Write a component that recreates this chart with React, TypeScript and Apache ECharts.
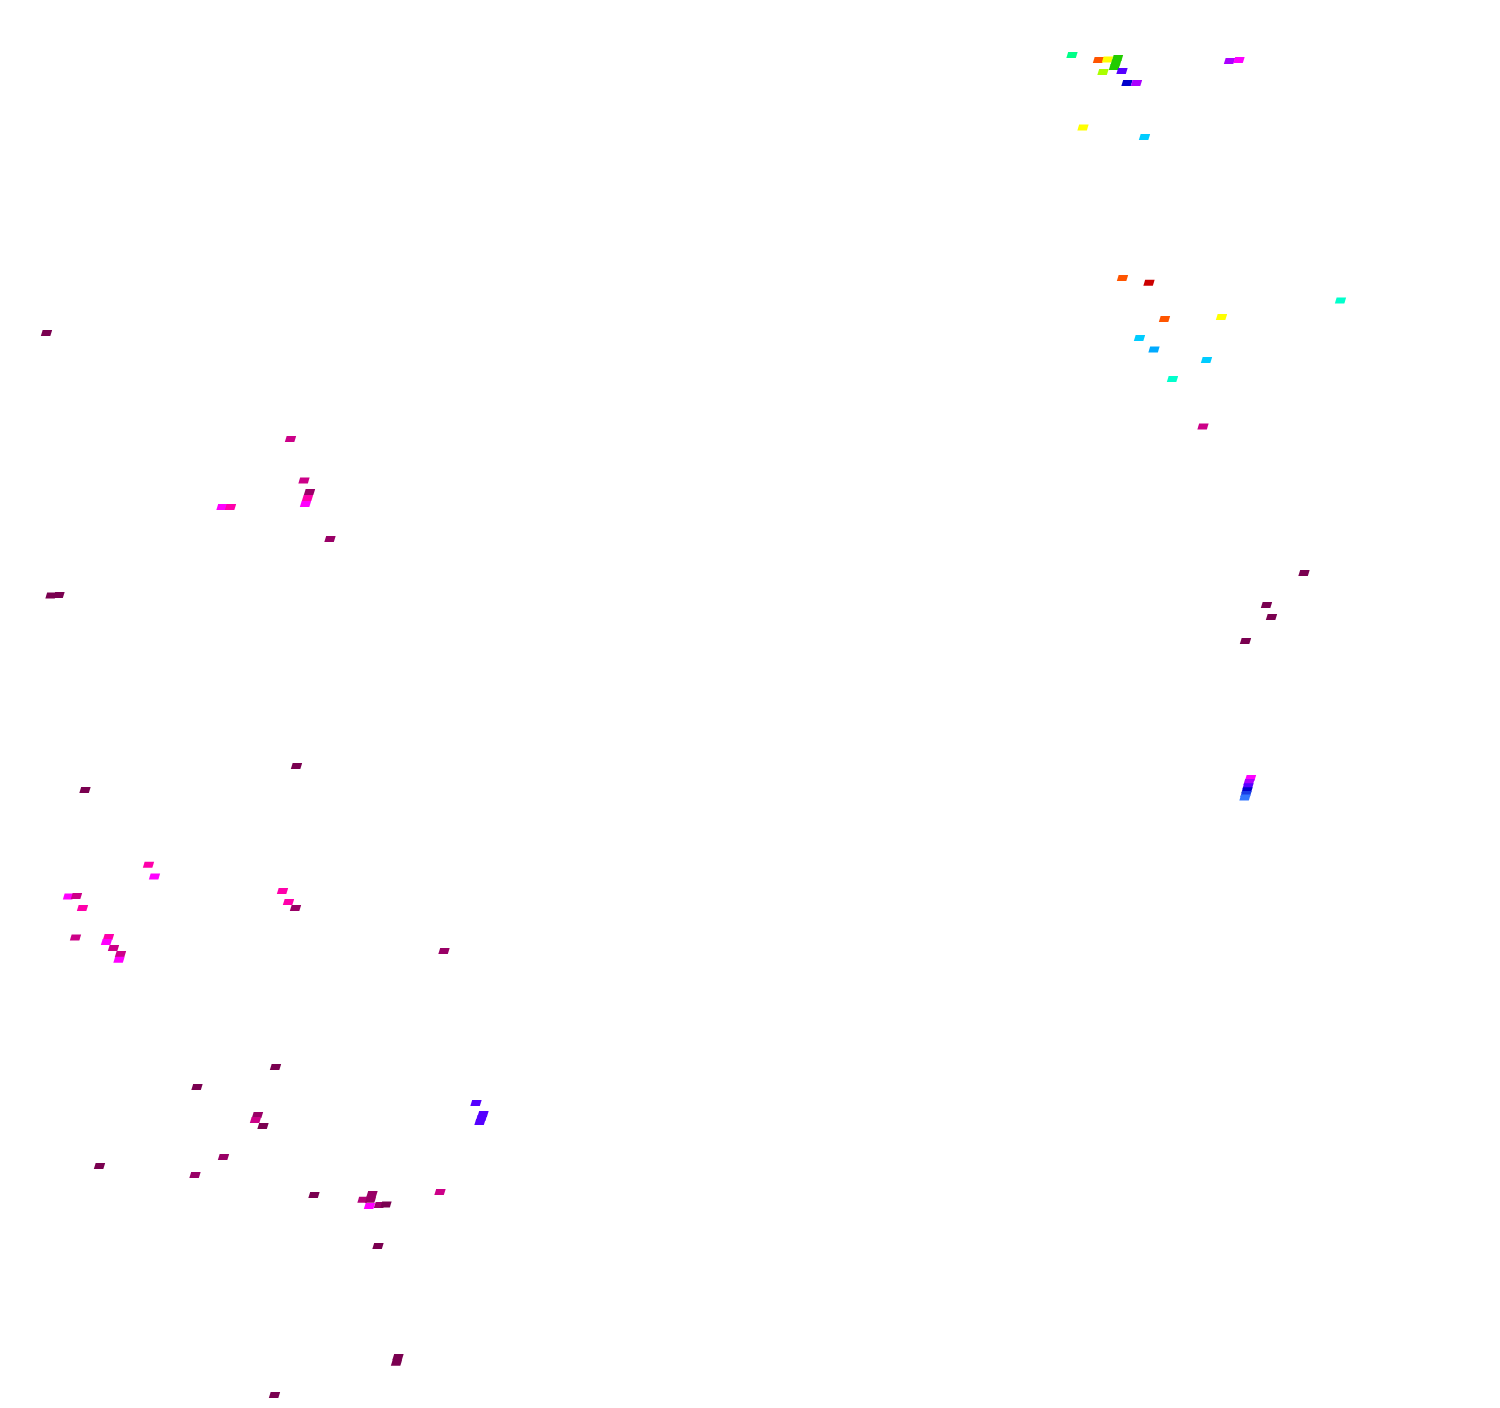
import React, { useEffect, useRef } from "react";
import * as echarts from "echarts";

// colour levels (low -> high)
const levelColors = [
  "#7a0050", "#990066", "#cc0088", "#ff00aa", "#ff00ff", "#aa00ff",
  "#5500ff", "#0000cc", "#3377ff", "#00aaff", "#00ccff", "#00ffcc",
  "#00ff88", "#22cc00", "#aaff00", "#ffff00", "#ff5500", "#cc0000",
];

// upper-right cluster
const clusterA_x = [1072, 1098.5, 1107.5, 1117.5, 1116, 1114.5, 1103, 1122, 1127, 1136.5, 1229.5, 1239, 1083, 1144.5];
const clusterA_y = [55, 60, 59.5, 58, 62.5, 67, 72, 71, 83, 83, 61, 60, 127.5, 137];
const clusterA_v = [12, 16, 15, 13, 13, 13, 14, 6, 7, 5, 5, 4, 15, 10];

// right middle cluster
const clusterB_x = [1122.5, 1149, 1340.5, 1164.5, 1221.5, 1139.5, 1154, 1206.5, 1172.5, 1203,
  1304, 1266.5, 1271.5, 1245.5, 1250.5, 1249, 1248, 1247, 1246, 1245];
const clusterB_y = [278, 282.7, 300.5, 319, 317, 338, 349.5, 360, 379, 426.5,
  573, 605, 617, 641, 778, 782, 786.3, 790.3, 794, 797.5];
const clusterB_v = [16, 17, 11, 16, 15, 10, 9, 10, 11, 2,
  0, 0, 0, 0, 4, 5, 6, 7, 7.5, 8];

// left upper cluster
const clusterC_x = [46.5, 290.5, 304, 309.5, 307.5, 305.5, 222, 230.5, 330, 51, 59, 296.5, 85];
const clusterC_y = [333, 439, 480.5, 492, 498, 504, 507, 507, 539, 595.5, 595, 766, 790];
const clusterC_v = [0, 2, 2, 1, 3, 4, 4, 3, 1, 0, 0, 0, 0];

// left middle cluster
const clusterD_x = [148.5, 154.5, 68.5, 76.5, 82.5, 75.5, 108.5, 106.5, 113.5, 120.5, 119,
  282.5, 288.5, 295.5, 444];
const clusterD_y = [864.7, 876.5, 896.5, 896, 908, 937.5, 937, 942, 948, 954, 959.7,
  891, 902, 908, 951];
const clusterD_v = [3, 4, 4, 2, 3, 2, 3, 4, 2, 2, 4,
  3, 3, 1, 1];

// left lower cluster
const clusterE_x = [275.5, 197, 257.5, 255.5, 263, 476, 483, 481.5, 480, 223.5, 99.5, 195, 314,
  372, 363, 370.5, 369.5, 379.5, 386, 440, 378, 398, 396.5, 274.5];
const clusterE_y = [1067, 1087, 1115, 1120, 1126, 1103, 1114, 1118, 1122, 1157, 1166, 1175, 1195,
  1194, 1199.7, 1199.7, 1206, 1205, 1204.5, 1192, 1246, 1357, 1362.7, 1395];
const clusterE_v = [0, 0, 1, 2, 0, 6, 6, 6, 6, 1, 0, 1, 0,
  1, 1.5, 1, 4, 1, 0, 2, 0, 0, 0, 0];

const CELL_W = 9.5;
const CELL_H = 6;
const CELL_SKEW = 1.8;

function buildData() {
  const groups = [
    [clusterA_x, clusterA_y, clusterA_v],
    [clusterB_x, clusterB_y, clusterB_v],
    [clusterC_x, clusterC_y, clusterC_v],
    [clusterD_x, clusterD_y, clusterD_v],
    [clusterE_x, clusterE_y, clusterE_v],
  ];
  const out: number[][] = [];
  groups.forEach(([xs, ys, vs]) => {
    xs.forEach((x, i) => out.push([x, ys[i], vs[i]]));
  });
  return out;
}

export default function App() {
  const ref = useRef<HTMLDivElement>(null);
  useEffect(() => {
    if (!ref.current) return;
    const chart = echarts.init(ref.current, null, { renderer: "svg" });
    chart.setOption({
      animation: false,
      backgroundColor: "#ffffff",
      grid: { left: 0, right: 0, top: 0, bottom: 0 },
      xAxis: { type: "value", min: 0, max: 1500, show: false },
      yAxis: { type: "value", min: 0, max: 1408, inverse: true, show: false },
      visualMap: {
        type: "continuous",
        show: false,
        dimension: 2,
        min: 0,
        max: levelColors.length - 1,
        inRange: { color: levelColors },
      },
      series: [
        {
          type: "custom",
          data: buildData(),
          encode: { x: 0, y: 1 },
          renderItem: (params: any, api: any) => {
            const p = api.coord([api.value(0), api.value(1)]);
            const cx = p[0];
            const cy = p[1];
            const hw = CELL_W / 2;
            const hh = CELL_H / 2;
            const hs = CELL_SKEW / 2;
            return {
              type: "polygon",
              shape: {
                points: [
                  [cx - hw - hs, cy + hh],
                  [cx + hw - hs, cy + hh],
                  [cx + hw + hs, cy - hh],
                  [cx - hw + hs, cy - hh],
                ],
              },
              style: { fill: api.visual("color") },
            };
          },
        },
      ],
    });
    return () => chart.dispose();
  }, []);
  return (
    <div
      ref={ref}
      style={{ position: "fixed", left: 0, top: 0, width: 1500, height: 1408 }}
    />
  );
}
